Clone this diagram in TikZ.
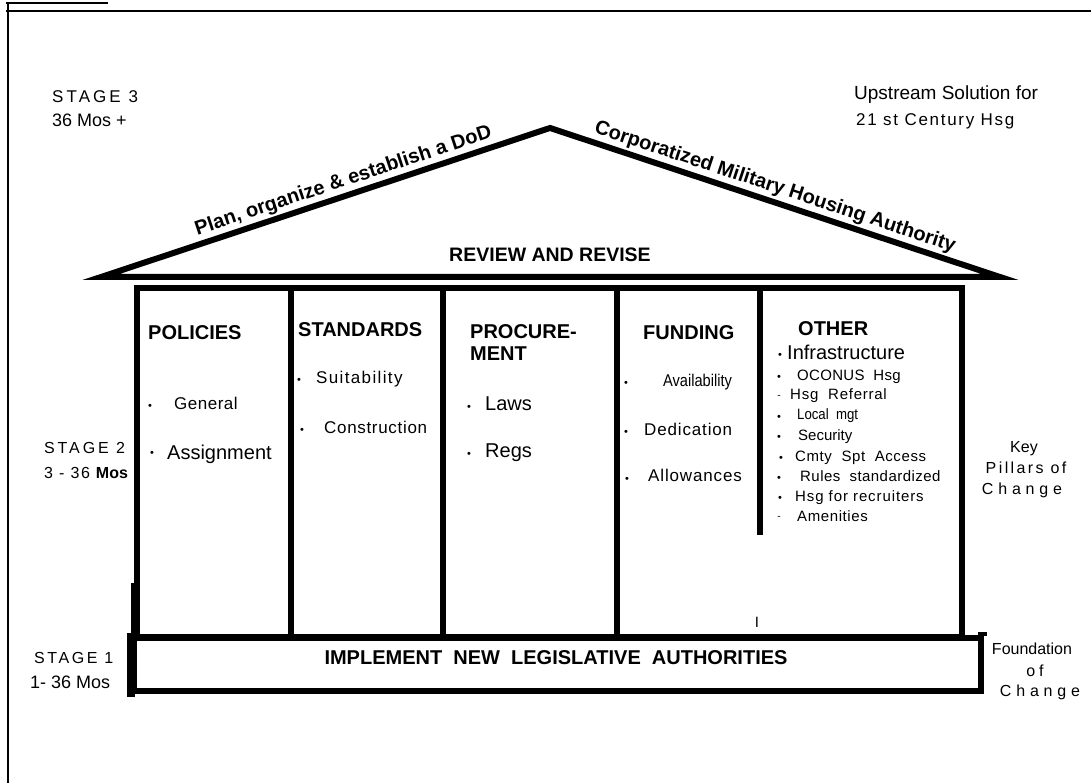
\documentclass[tikz,border=0pt]{standalone}
\usepackage{fontspec}
\setmainfont{Liberation Sans}
\newcommand\fs[1]{\fontsize{#1}{#1}\selectfont}
\newcommand\lsp[1]{\addfontfeature{LetterSpace=#1}}
\begin{document}
\begin{tikzpicture}[x=1pt,y=-1pt,
  frame/.style={line width=2.5pt},
  heavy/.style={line width=6pt},
  lbl/.style={inner sep=0pt, anchor=base west, font=\fs{17}},
  hd/.style={inner sep=0pt, anchor=base west, font=\bfseries\fs{20}},
  itm/.style={inner sep=0pt, anchor=base west},
  bul/.style={inner sep=0pt, font=\fs{11}},
  rooft/.style={sloped, above, inner sep=0pt, outer sep=5pt, font=\bfseries\fs{20}},
  side/.style={inner sep=0pt, anchor=base, font=\fs{16}}
]
\useasboundingbox (0,0) rectangle (1091,783);
% outer frame
\coordinate (fTL) at (8,2); \coordinate (fBL) at (8,783);
\coordinate (hL) at (6,11); \coordinate (hR) at (1091,11);
\coordinate (sL) at (6,3); \coordinate (sR) at (108,3);
\draw[frame] (fTL) -- (fBL);
\draw[frame] (hL) -- (hR);
\draw[line width=2pt] (sL) -- (sR);

% roof
\coordinate (L) at (101,277); \coordinate (A) at (550,128); \coordinate (R) at (1000,277);
\draw[heavy, line join=miter, miter limit=12] (L) -- (A) -- (R) -- cycle;
\path (L) -- node[rooft, pos=0.55] (rtl) {Plan, organize \& establish a DoD} (A);
\path (A) -- node[rooft, pos=0.49] (rtr) {Corporatized Military Housing Authority} (R);
\node[inner sep=0pt, font=\bfseries\fs{19.5}] (rev) at (550,255) {REVIEW AND REVISE};

% pillars
\coordinate (P1) at (137,288); \coordinate (P3) at (962,637);
\draw[heavy] (P1) rectangle (P3);
\coordinate (d1t) at (291,288); \coordinate (d1b) at (291,637);
\coordinate (d2t) at (443,288); \coordinate (d2b) at (443,637);
\coordinate (d3t) at (617,288); \coordinate (d3b) at (617,637);
\coordinate (d4t) at (760,288); \coordinate (d4b) at (760,535);
\draw[heavy] (d1t) -- (d1b);
\draw[heavy] (d2t) -- (d2b);
\draw[heavy] (d3t) -- (d3b);
\draw[heavy] (d4t) -- (d4b);
\coordinate (stpT) at (132.5,583); \coordinate (stpB) at (132.5,637);
\draw[line width=4pt] (stpT) -- (stpB);

% foundation
\coordinate (F1) at (134,638); \coordinate (F3) at (981,691);
\draw[heavy] (F1) rectangle (F3);
\coordinate (FLt) at (131,633); \coordinate (FLb) at (131,697);
\draw[line width=8pt] (FLt) -- (FLb);
\coordinate (bmpL) at (978,634); \coordinate (bmpR) at (987,634);
\draw[line width=4pt] (bmpL) -- (bmpR);
\node[inner sep=0pt, font=\bfseries\fs{20}] (impl) at (556,658) {IMPLEMENT\ \ NEW\ \ LEGISLATIVE\ \ AUTHORITIES};
\node[inner sep=0pt, font=\fs{15}] (bar) at (757,622) {I};

% stage labels
\node[lbl, font=\fs{17}\lsp{18}] (s3) at (52,103) {STAGE 3};
\node[lbl, font=\fs{18}] (s3m) at (52,126.5) {36 Mos +};
\node[lbl, font=\fs{16}\lsp{18}] (s2) at (44,453) {STAGE 2};
\node[lbl, font=\fs{16}\lsp{10}] (s2m) at (44,478) {3 - 36 {\bfseries\lsp{0}Mos}};
\node[lbl, font=\fs{16}\lsp{16}] (s1) at (34,663) {STAGE 1};
\node[lbl, font=\fs{18}] (s1m) at (30,688.5) {1- 36 Mos};

% right labels
\node[lbl, font=\fs{19}] (up1) at (854,100) {Upstream Solution for};
\node[lbl, font=\fs{17}\lsp{10}] (up2) at (856,126) {21 st Century Hsg};
\node[side] (k1) at (1024,452) {Key};
\node[side, font=\fs{16}\lsp{15}] (k2) at (1026,473) {Pillars of};
\node[side, font=\fs{16}\lsp{30}] (k3) at (1022,494) {Change};
\node[side] (fo1) at (1032,654) {Foundation};
\node[side, font=\fs{16}\lsp{25}] (fo2) at (1035,676) {of};
\node[side, font=\fs{16}\lsp{30}] (fo3) at (1040,696) {Change};

% headings
\node[hd] (h1) at (148,339) {POLICIES};
\node[hd] (h2) at (298,336) {STANDARDS};
\node[hd, align=left, font=\bfseries\fontsize{20}{22}\selectfont] (h3) at (470,360) {PROCURE-\\MENT};
\node[hd] (h4) at (643,339) {FUNDING};
\node[hd] (h5) at (798,335) {OTHER};

% policies
\node[bul] (b11) at (150,407) {•};
\node[itm, font=\fs{17}\lsp{3}] (t11) at (174,409) {General};
\node[bul] (b12) at (152,454) {•};
\node[itm, font=\fs{20}] (t12) at (167,459) {Assignment};
% standards
\node[bul] (b21) at (299,381) {•};
\node[itm, font=\fs{17}\lsp{8}] (t21) at (316,383.5) {Suitability};
\node[bul] (b22) at (302,431) {•};
\node[itm, font=\fs{17}\lsp{4}] (t22) at (324,433) {Construction};
% procurement
\node[bul] (b31) at (469,408) {•};
\node[itm, font=\fs{20}] (t31) at (485,410) {Laws};
\node[bul] (b32) at (469,455) {•};
\node[itm, font=\fs{20}] (t32) at (485,457) {Regs};
% funding
\node[bul] (b41) at (626,384) {•};
\node[itm, font=\fs{17}, xscale=0.86] (t41) at (663,386) {Availability};
\node[bul] (b42) at (626,433) {•};
\node[itm, font=\fs{17}\lsp{5}] (t42) at (644,435) {Dedication};
\node[bul] (b43) at (627,480) {•};
\node[itm, font=\fs{17}\lsp{5}] (t43) at (648,481) {Allowances};
% other
\node[bul] (b51) at (780,356) {•};
\node[itm, font=\fs{20}] (t51) at (787,359) {Infrastructure};
\node[bul] (b52) at (779,378) {•};
\node[itm, font=\fs{15}\lsp{2}] (t52) at (797,380.5) {OCONUS\ \ Hsg};
\node[bul, font=\fs{10}] (b53) at (779,397) {-};
\node[itm, font=\fs{15}\lsp{5}] (t53) at (790,399.5) {Hsg\ \ Referral};
\node[bul] (b54) at (779,418) {•};
\node[itm, font=\fs{15}, xscale=0.88] (t54) at (797,419.5) {Local\ \ mgt};
\node[bul] (b55) at (779,438) {•};
\node[itm, font=\fs{15}] (t55) at (798,440.5) {Security};
\node[bul] (b56) at (781,459) {•};
\node[itm, font=\fs{15}\lsp{4}] (t56) at (795,461.5) {Cmty\ \ Spt\ \ Access};
\node[bul] (b57) at (779,479) {•};
\node[itm, font=\fs{15}\lsp{3}] (t57) at (800,481.5) {Rules\ \ standardized};
\node[bul] (b58) at (780,499) {•};
\node[itm, font=\fs{15}\lsp{6}] (t58) at (795,501.5) {Hsg for recruiters};
\node[bul, font=\fs{10}] (b59) at (779,518) {-};
\node[itm, font=\fs{15}\lsp{4}] (t59) at (797,521.5) {Amenities};
\end{tikzpicture}
\end{document}
